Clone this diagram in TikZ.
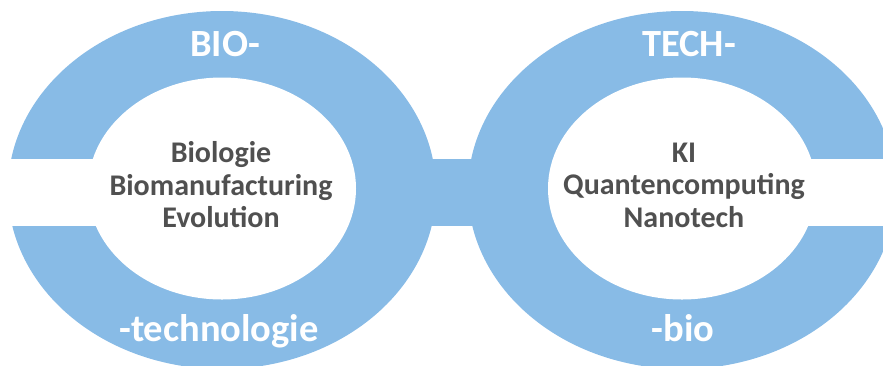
\documentclass[tikz,border=0pt]{standalone}
\usepackage{fontspec}
\setmainfont{Carlito}
\definecolor{ringblue}{HTML}{88BBE6}
\definecolor{txtgray}{HTML}{505050}
\tikzset{
  ring/.style={fill=ringblue, draw=none},
  hole/.style={fill=white, draw=none},
  affix/.style={font=\fontsize{38.5}{44}\selectfont\bfseries, text=white, anchor=base, inner sep=0pt},
  topics/.style={font=\fontsize{30}{32.5}\selectfont\bfseries, text=txtgray, align=center, inner sep=0pt},
}
\begin{document}
\begin{tikzpicture}[x=1pt,y=-1pt]
\useasboundingbox (0,0) rectangle (883,365);
\clip (0,0) rectangle (883,365);
% outer rings
\fill[ring] (222,190) ellipse [x radius=214pt, y radius=179pt];
\fill[ring] (682,190) ellipse [x radius=214pt, y radius=179pt];
% connecting band
\fill[ring] (222,158.5) rectangle (682,226);
% inner holes
\fill[hole] (222,188.5) ellipse [x radius=134pt, y radius=111pt];
\fill[hole] (682,188.5) ellipse [x radius=134pt, y radius=111pt];
% outer gaps
\fill[hole] (-2,158.5) rectangle (222,226);
\fill[hole] (682,158.5) rectangle (886,226);
% labels
\node[affix] (bio) at (225,56.7) {BIO-};
\node[affix] (tech) at (689,56.7) {TECH-};
\node[affix] (technologie) at (219,341.7) {-technologie};
\node[affix] (biosuffix) at (683,341.7) {-bio};
\node[topics] (lefttopics) at (221,185) {Biologie\\Biomanufacturing\\Evolution};
\node[topics] (righttopics) at (684,185) {KI\\Quantencomputing\\Nanotech};
\end{tikzpicture}
\end{document}
